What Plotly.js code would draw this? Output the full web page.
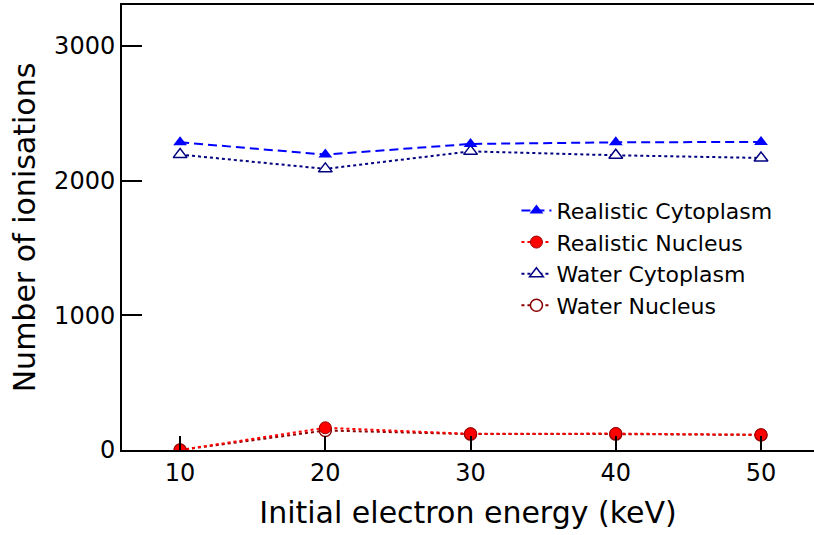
<!DOCTYPE html>
<html>
<head>
<meta charset="utf-8">
<script src="https://cdn.plot.ly/plotly-3.0.1.min.js"></script>
<style>
html,body{margin:0;padding:0;background:#fff;overflow:hidden;}
#chart{width:814px;height:535px;}
</style>
</head>
<body>
<div id="chart"></div>
<script>
// Data
const energies = [10, 20, 30, 40, 50];               // Initial electron energy (keV)
const realisticCytoplasm = [2285, 2194, 2273, 2285, 2288];
const realisticNucleus   = [0, 165, 120, 122, 113];
const waterCytoplasm     = [2194, 2088, 2218, 2189, 2169];
const waterNucleus       = [0, 145, 118, 118, 112];
const xTicks = [10, 20, 30, 40, 50];
const yTicks = [0, 1000, 2000, 3000];

const FONT = 'DejaVu Sans, Liberation Sans, Arial, sans-serif';

const traces = [
  {
    x: energies, y: waterCytoplasm, name: 'Water Cytoplasm', legendrank: 3,
    mode: 'lines+markers',
    line: {color: '#000080', width: 2, dash: '3px,3px'},
    marker: {symbol: 'triangle-up', size: 12, color: '#ffffff', line: {color: '#000080', width: 1.5}}
  },
  {
    x: energies, y: waterNucleus, name: 'Water Nucleus', legendrank: 4,
    mode: 'lines+markers',
    line: {color: '#8b0000', width: 2, dash: '3px,3px'},
    marker: {symbol: 'circle', size: 12, color: '#ffffff', line: {color: '#8b0000', width: 1.5}}
  },
  {
    x: energies, y: realisticCytoplasm, name: 'Realistic Cytoplasm', legendrank: 1,
    mode: 'lines+markers',
    line: {color: '#0000ff', width: 2, dash: '9px,5px'},
    marker: {symbol: 'triangle-up', size: 12, color: '#0000ff'}
  },
  {
    x: energies, y: realisticNucleus, name: 'Realistic Nucleus', legendrank: 2,
    mode: 'lines+markers',
    line: {color: '#ff0000', width: 2, dash: '3px,3px'},
    marker: {symbol: 'circle', size: 12, color: '#ff0000', line: {color: '#990000', width: 1}}
  }
];

const layout = {
  width: 814, height: 535,
  margin: {l: 122, r: 0, t: 5, b: 85, pad: 0},
  paper_bgcolor: '#ffffff', plot_bgcolor: '#ffffff',
  font: {family: FONT, color: '#000000', size: 24},
  showlegend: true,
  legend: {
    x: 0.570, xanchor: 'left', y: 0.585, yanchor: 'top',
    bgcolor: 'rgba(0,0,0,0)', borderwidth: 0,
    font: {family: FONT, size: 22, color: '#000'},
    traceorder: 'normal'
  },
  xaxis: {
    range: [6, 53.65], tickvals: xTicks, ticktext: xTicks.map(String),
    ticks: 'inside', ticklen: 14, tickwidth: 2, tickcolor: '#000',
    showline: true, linewidth: 2, linecolor: '#000', mirror: true,
    showgrid: false, zeroline: false,
    tickfont: {family: FONT, size: 24},
    title: {text: 'Initial electron energy (keV)', font: {family: FONT, size: 30}, standoff: 16}
  },
  yaxis: {
    range: [0, 3305], tickvals: yTicks, ticktext: yTicks.map(String),
    ticks: 'inside', ticklen: 20, tickwidth: 2, tickcolor: '#000',
    showline: true, linewidth: 2, linecolor: '#000', mirror: false,
    showgrid: false, zeroline: false,
    tickfont: {family: FONT, size: 24},
    title: {text: 'Number of ionisations', font: {family: FONT, size: 30}, standoff: 10}
  }
};

Plotly.newPlot('chart', traces, layout, {displayModeBar: false, staticPlot: true});
</script>
</body>
</html>
